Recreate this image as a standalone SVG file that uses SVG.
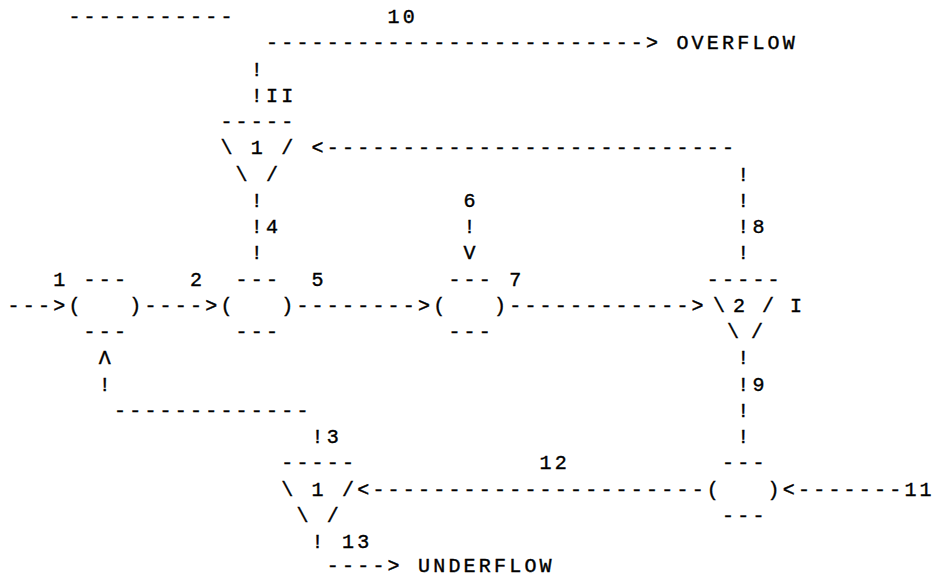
<svg xmlns="http://www.w3.org/2000/svg" width="935" height="577" viewBox="0 0 935 577">
<style>
text{font-family:"Liberation Mono","DejaVu Sans Mono",monospace;font-size:20px;letter-spacing:3.2px;fill:#000;stroke:#000;stroke-width:0.4px;}
</style>
<rect width="935" height="577" fill="#fff"/>
<g id="connectors">
<text x="68.4" y="23">-----------</text>
<text x="266" y="49.3">-------------------------&gt;</text>
<text x="250.8" y="75.5">!</text>
<text x="250.8" y="101.8">!</text>
<text x="311.6" y="154.3">&lt;---------------------------</text>
<text x="737.2" y="180.6">!</text>
<text x="250.8" y="206.8">!</text>
<text x="737.2" y="206.8">!</text>
<text x="250.8" y="233.1">!</text>
<text x="463.6" y="233.1">!</text>
<text x="737.2" y="233.1">!</text>
<text x="250.8" y="259.3">!</text>
<text x="463.6" y="259.3">V</text>
<text x="737.2" y="259.3">!</text>
<text x="7.6" y="311.9">---&gt;</text>
<text x="144.4" y="311.9">----&gt;</text>
<text x="296.4" y="311.9">--------&gt;</text>
<text x="509.2" y="311.9">------------&gt;</text>
<text x="98.8" y="364.4">Λ</text>
<text x="737.2" y="364.4">!</text>
<text x="98.8" y="390.6">!</text>
<text x="737.2" y="390.6">!</text>
<text x="114" y="416.9">-------------</text>
<text x="737.2" y="416.9">!</text>
<text x="311.6" y="443.2">!</text>
<text x="737.2" y="443.2">!</text>
<text x="357.2" y="495.7">&lt;----------------------</text>
<text x="782.8" y="495.7">&lt;-------</text>
<text x="311.6" y="548.2">!</text>
<text x="326.8" y="572">----&gt;</text>
</g>
<g id="node-circle-1">
<text x="83.6" y="285.6">---</text>
<text x="68.4" y="311.9">(</text>
<text x="129.2" y="311.9">)</text>
<text x="83.6" y="338.1">---</text>
</g>
<g id="node-circle-2">
<text x="235.6" y="285.6">---</text>
<text x="220.4" y="311.9">(</text>
<text x="281.2" y="311.9">)</text>
<text x="235.6" y="338.1">---</text>
</g>
<g id="node-circle-3">
<text x="448.4" y="285.6">---</text>
<text x="433.2" y="311.9">(</text>
<text x="494" y="311.9">)</text>
<text x="448.4" y="338.1">---</text>
</g>
<g id="node-circle-4">
<text x="722" y="469.4">---</text>
<text x="706.8" y="495.7">(</text>
<text x="767.6" y="495.7">)</text>
<text x="722" y="521.9">---</text>
</g>
<g id="node-tri-top">
<text x="220.4" y="128">-----</text>
<text x="220.4" y="154.3">\</text>
<text x="250.8" y="154.3">1</text>
<text x="281.2" y="154.3">/</text>
<text x="235.6" y="180.6">\</text>
<text x="266" y="180.6">/</text>
</g>
<g id="node-tri-right">
<text x="706.8" y="285.6">-----</text>
<text x="713" y="311.9">\</text>
<text x="733" y="311.9">2</text>
<text x="762" y="311.9">/</text>
<text x="727" y="338.1">\</text>
<text x="751" y="338.1">/</text>
</g>
<g id="node-tri-bottom">
<text x="281.2" y="469.4">-----</text>
<text x="281.2" y="495.7">\</text>
<text x="311.6" y="495.7">1</text>
<text x="342" y="495.7">/</text>
<text x="296.4" y="521.9">\</text>
<text x="326.8" y="521.9">/</text>
</g>
<g id="labels">
<text x="387.6" y="23">10</text>
<text x="676.4" y="49.3">OVERFLOW</text>
<text x="266" y="101.8">II</text>
<text x="463.6" y="206.8">6</text>
<text x="266" y="233.1">4</text>
<text x="752.4" y="233.1">8</text>
<text x="53.2" y="285.6">1</text>
<text x="190" y="285.6">2</text>
<text x="311.6" y="285.6">5</text>
<text x="509.2" y="285.6">7</text>
<text x="790" y="311.9">I</text>
<text x="752.4" y="390.6">9</text>
<text x="326.8" y="443.2">3</text>
<text x="539.6" y="469.4">12</text>
<text x="904.4" y="495.7">11</text>
<text x="342" y="548.2">13</text>
<text x="418" y="572">UNDERFLOW</text>
</g>
</svg>
